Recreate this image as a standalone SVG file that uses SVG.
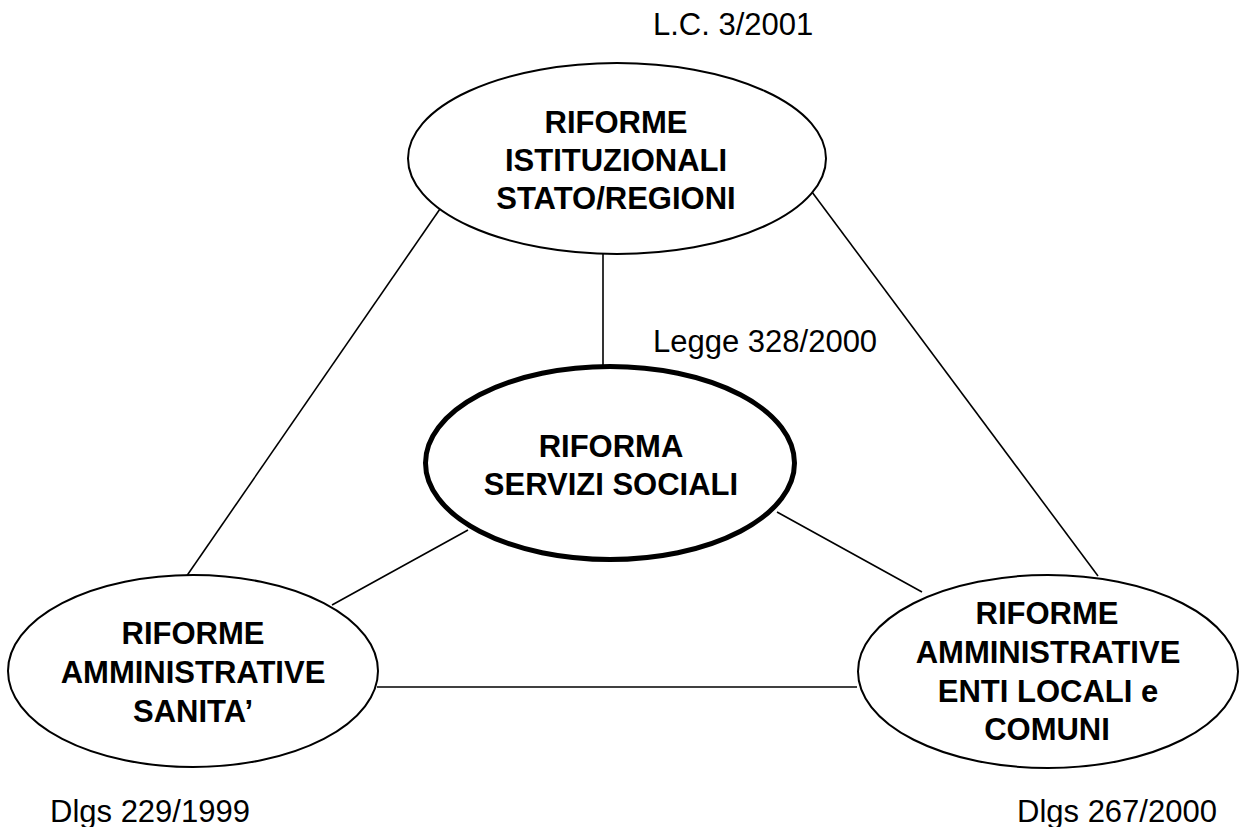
<svg xmlns="http://www.w3.org/2000/svg" width="1242" height="827" viewBox="0 0 1242 827">
<style>
.bg{fill:#ffffff}
.node{fill:#ffffff;stroke:#000000;stroke-width:2}
.thick{stroke-width:5}
.conn line{stroke:#000000;stroke-width:1.6}
.t{font-family:"Liberation Sans",Arial,sans-serif;font-size:31px;font-weight:bold;fill:#000000;text-anchor:middle}
.lbl{font-family:"Liberation Sans",Arial,sans-serif;font-size:31px;fill:#000000}
</style>
<rect class="bg" x="0" y="0" width="1242" height="827"/>
<g id="connectors" class="conn">
<line x1="442" y1="206" x2="186" y2="577"/>
<line x1="812" y1="192" x2="1098" y2="576"/>
<line x1="603" y1="250" x2="603" y2="373"/>
<line x1="468" y1="530" x2="332" y2="605"/>
<line x1="777" y1="512" x2="922" y2="592"/>
<line x1="377" y1="687" x2="857" y2="687"/>
</g>
<g id="node-istituzionali">
<ellipse class="node" cx="617" cy="158.5" rx="209" ry="95.5"/>
<text class="t" x="616" y="133">RIFORME</text>
<text class="t" x="616" y="171">ISTITUZIONALI</text>
<text class="t" x="616" y="209">STATO/REGIONI</text>
</g>
<g id="node-servizi">
<ellipse class="node thick" cx="610" cy="463" rx="184.5" ry="96.5"/>
<text class="t" x="611" y="457">RIFORMA</text>
<text class="t" x="611" y="495">SERVIZI SOCIALI</text>
</g>
<g id="node-sanita">
<ellipse class="node" cx="193" cy="671" rx="185" ry="96"/>
<text class="t" x="193" y="644">RIFORME</text>
<text class="t" x="193" y="683">AMMINISTRATIVE</text>
<text class="t" x="193" y="722">SANITA’</text>
</g>
<g id="node-enti">
<ellipse class="node" cx="1048" cy="671.5" rx="190" ry="96.5"/>
<text class="t" x="1047" y="624">RIFORME</text>
<text class="t" x="1048" y="663">AMMINISTRATIVE</text>
<text class="t" x="1048" y="702">ENTI LOCALI e</text>
<text class="t" x="1047" y="740">COMUNI</text>
</g>
<g id="labels">
<text class="lbl" x="653" y="35">L.C. 3/2001</text>
<text class="lbl" x="653" y="352">Legge 328/2000</text>
<text class="lbl" x="50" y="822">Dlgs 229/1999</text>
<text class="lbl" x="1017" y="822">Dlgs 267/2000</text>
</g>
</svg>
